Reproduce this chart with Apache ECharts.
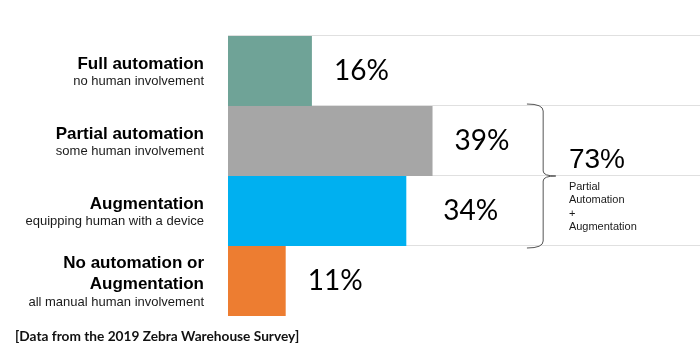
<!DOCTYPE html>
<html>
<head>
<meta charset="utf-8">
<script src="https://cdn.jsdelivr.net/npm/echarts@6/dist/echarts.min.js"></script>
<style>
  html, body { margin: 0; padding: 0; background: #fff; }
  #chart { width: 700px; height: 351px; }
</style>
</head>
<body>
<div id="chart"></div>
<script>
// categories (top to bottom)
const catTitles = ['Full automation', 'Partial automation', 'Augmentation', 'No automation or\nAugmentation'];
const catSubtitles = ['no human involvement', 'some human involvement', 'equipping human with a device', 'all manual human involvement'];
const shares = [16, 39, 34, 11];
const barColors = ['#6fa397', '#a6a6a6', '#00b0f0', '#ed7d31'];
// bracket groups rows 1 and 2
const groupRows = [1, 2];
const groupNote = 'Partial\nAutomation\n+\nAugmentation';
const footNote = '[Data from the 2019 Zebra Warehouse Survey]';

const chart = echarts.init(document.getElementById('chart'));

const labelText = (i) => {
    const t = catTitles[i].split('\n').map(s => `{b|${s}}`).join('\n');
    return `${t}\n{s|${catSubtitles[i]}}`;
};

chart.setOption({
    animation: false,
    grid: { left: 228, right: 0, top: 36, bottom: 35 },
    title: {
        text: footNote,
        left: 10,
        bottom: 2,
        textStyle: { fontFamily: 'Lato', fontSize: 13.7, fontWeight: 'bold', color: '#111' }
    },
    xAxis: {
        type: 'value', min: 0, max: 90,
        show: false
    },
    yAxis: {
        type: 'category',
        inverse: true,
        data: catTitles.map((t, i) => i),
        axisLine: { show: false },
        axisTick: { show: false },
        splitLine: { show: false },
        axisLabel: {
            margin: 24,
            align: 'right',
            formatter: (v, i) => labelText(i),
            rich: {
                b: { fontFamily: 'Liberation Sans', fontSize: 17, fontWeight: 'bold', color: '#000', lineHeight: 21, align: 'right' },
                s: { fontFamily: 'Liberation Sans', fontSize: 13, color: '#1a1a1a', lineHeight: 14, align: 'right' }
            }
        }
    },
    series: [{
        type: 'bar',
        barCategoryGap: '0%',
        z: 3,
        data: shares.map((v, i) => ({
            value: v,
            itemStyle: { color: barColors[i] },
            label: i === 2 ? { distance: 37 } : undefined
        })),
        label: {
            show: true,
            position: 'right',
            distance: 22,
            formatter: '{c}%',
            fontFamily: 'Lato',
            fontSize: 28,
            color: '#000'
        }
    }]
});

// row rules, bracket and total annotation, placed from the axes
function drawExtras() {
    const yAxis = chart.getModel().getComponent('yAxis', 0).axis;
    const band = yAxis.getBandWidth();
    const rowTop = (r) => chart.convertToPixel({ yAxisIndex: 0 }, r) - band / 2;
    const x0 = chart.convertToPixel({ xAxisIndex: 0 }, 0);
    const items = [];
    shares.forEach((v, r) => {
        const y = Math.round(rowTop(r)) - 0.5;
        items.push({ type: 'line', z: 1, shape: { x1: x0, y1: y, x2: 700, y2: y }, style: { stroke: '#e0e0e0', lineWidth: 1 } });
    });

    const yTop = rowTop(groupRows[0]);
    const yBot = rowTop(groupRows[groupRows.length - 1]) + band;
    const yMid = (yTop + yBot) / 2;
    const xB = chart.convertToPixel({ xAxisIndex: 0 }, 60) + 0.5;
    const xS = chart.convertToPixel({ xAxisIndex: 0 }, 57);
    const xT = chart.convertToPixel({ xAxisIndex: 0 }, 62.5);
    const xText = chart.convertToPixel({ xAxisIndex: 0 }, 65);
    const total = groupRows.reduce((s, r) => s + shares[r], 0);
    const st = { stroke: '#555', lineWidth: 1, fill: null };
    items.push(
        { type: 'bezierCurve', z: 5, shape: { x1: xS, y1: yTop - 2, cpx1: xB, cpy1: yTop - 2, x2: xB, y2: yTop + 5 }, style: st },
        { type: 'line', z: 5, shape: { x1: xB, y1: yTop + 5, x2: xB, y2: yMid - 5 }, style: st },
        { type: 'bezierCurve', z: 5, shape: { x1: xB, y1: yMid - 5, cpx1: xB, cpy1: yMid, x2: xT, y2: yMid }, style: st },
        { type: 'bezierCurve', z: 5, shape: { x1: xT, y1: yMid, cpx1: xB, cpy1: yMid, x2: xB, y2: yMid + 5 }, style: st },
        { type: 'line', z: 5, shape: { x1: xB, y1: yMid + 5, x2: xB, y2: yBot - 5 }, style: st },
        { type: 'bezierCurve', z: 5, shape: { x1: xB, y1: yBot - 5, cpx1: xB, cpy1: yBot + 2, x2: xS, y2: yBot + 2 }, style: st },
        { type: 'text', z: 5, x: xText, y: yMid - 2, style: { text: total + '%', fontFamily: 'Liberation Sans', fontSize: 28, fill: '#000', verticalAlign: 'bottom' } },
        { type: 'text', z: 5, x: xText, y: yMid + 4, style: { text: groupNote, fontFamily: 'Liberation Sans', fontSize: 11, lineHeight: 13.5, fill: '#1a1a1a', verticalAlign: 'top' } }
    );
    chart.setOption({ graphic: items });
}
drawExtras();
</script>
</body>
</html>
